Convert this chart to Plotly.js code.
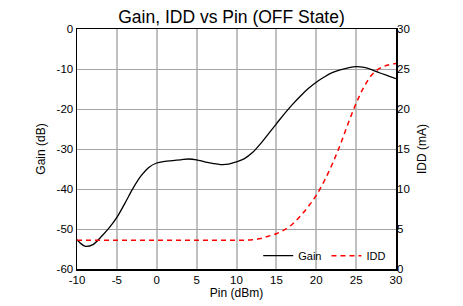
<!DOCTYPE html>
<html>
<head>
<meta charset="utf-8">
<script src="https://cdn.plot.ly/plotly-3.0.1.min.js"></script>
<style>html,body{margin:0;padding:0;background:#fff;}#chart{width:463px;height:306px;}</style>
</head>
<body>
<div id="chart"></div>
<script>
const pin = [-10,-9,-8,-7,-6,-5,-4,-3,-2,-1,0,1,2,3,4,5,6,7,8,9,10,11,12,13,14,15,16,17,18,19,20,21,22,23,24,25,26,27,28,29,30];
const gain = [-52.7,-54.3,-53.9,-52.0,-49.8,-47.1,-43.6,-39.9,-36.8,-34.6,-33.5,-33.1,-32.9,-32.7,-32.5,-32.7,-33.2,-33.6,-33.9,-33.8,-33.2,-32.4,-30.9,-28.7,-26.2,-23.7,-21.2,-18.9,-16.8,-14.9,-13.3,-12,-10.9,-10.2,-9.7,-9.4,-9.6,-10.2,-11,-11.7,-12.4];
const idd = [3.6,3.6,3.6,3.6,3.6,3.6,3.6,3.6,3.6,3.6,3.6,3.6,3.6,3.6,3.6,3.6,3.6,3.6,3.6,3.6,3.6,3.6,3.65,3.8,4.1,4.4,4.9,5.6,6.6,7.8,9.2,11.0,13.1,15.5,18.2,20.7,22.8,24.3,25.1,25.5,25.7];
const xTicks = [-10,-5,0,5,10,15,20,25,30];
const xTickText = ['-10','-5','0','5','10','15','20','25','30'];
const gainTicks = [-60,-50,-40,-30,-20,-10,0];
const gainTickText = ['-60','-50','-40','-30','-20','-10','0'];
const iddTicks = [0,5,10,15,20,25,30];

const FF = 'Liberation Sans, Arial, sans-serif';
const traces = [
  {x: pin, y: gain, name: 'Gain', type: 'scatter', mode: 'lines',
   line: {color: '#000000', width: 1.3, shape: 'spline', smoothing: 1}, yaxis: 'y'},
  {x: pin, y: idd, name: 'IDD', type: 'scatter', mode: 'lines',
   line: {color: '#ff0000', width: 1.5, dash: '5px,4px', shape: 'spline'}, yaxis: 'y2'}
];
const layout = {
  width: 463, height: 306,
  margin: {l: 77, r: 67, t: 29, b: 37},
  paper_bgcolor: '#ffffff', plot_bgcolor: '#ffffff',
  font: {family: FF, size: 11, color: '#000000'},
  title: {text: 'Gain, IDD vs Pin (OFF State)', font: {family: FF, size: 17.5, color: '#000000'}, x: 0.5, xanchor: 'center', y: 0.945, yanchor: 'middle'},
  xaxis: {range: [-10, 30], tickmode: 'array', tickvals: xTicks, ticktext: xTickText, showgrid: true, gridcolor: '#c0c0c0', gridwidth: 2,
    showline: true, linecolor: '#000000', linewidth: 1.5, mirror: true, zeroline: false, ticks: '',
    title: {text: 'Pin (dBm)', font: {size: 12, color: '#000000'}, standoff: 3}, tickfont: {size: 11.5, color: '#000000'}},
  yaxis: {range: [-60, 0], tickmode: 'array', tickvals: gainTicks, ticktext: gainTickText, showgrid: true, gridcolor: '#a6a6a6', gridwidth: 1,
    showline: true, linecolor: '#000000', linewidth: 1.5, mirror: true, zeroline: false, ticks: '',
    title: {text: 'Gain (dB)', font: {size: 12, color: '#000000'}, standoff: 8}, tickfont: {size: 11.5, color: '#000000'}},
  yaxis2: {range: [0, 30], tickmode: 'array', tickvals: iddTicks, overlaying: 'y', side: 'right', showgrid: false, zeroline: false,
    showline: false, ticks: '',
    title: {text: 'IDD (mA)', font: {size: 12, color: '#000000'}, standoff: 8}, tickfont: {size: 11.5, color: '#000000'}},
  showlegend: true,
  legend: {orientation: 'h', x: 0.985, xanchor: 'right', y: -0.005, yanchor: 'bottom',
    bgcolor: 'rgba(0,0,0,0)', font: {size: 11, color: '#000000'}, itemwidth: 30, tracegroupgap: 0}
};
Plotly.newPlot('chart', traces, layout, {displayModeBar: false, staticPlot: true});
</script>
</body>
</html>
